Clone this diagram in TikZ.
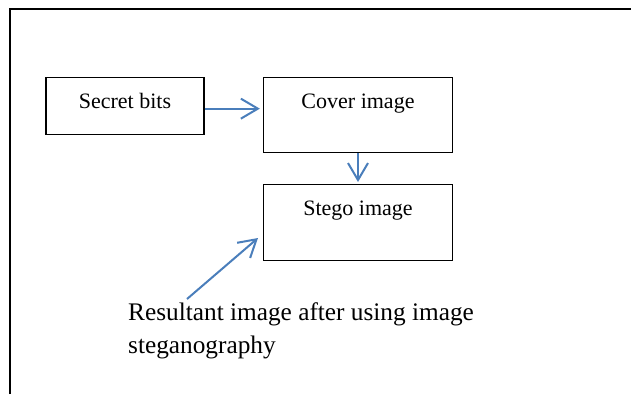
\documentclass[tikz,border=0pt]{standalone}
\usepackage{fontspec}
\setmainfont{Liberation Serif}
\usetikzlibrary{arrows.meta}
\definecolor{arrblue}{HTML}{4A7EBB}
\begin{document}
\begin{tikzpicture}[x=1pt,y=-1pt,
  boxnode/.style={draw=black,line width=1.3pt,inner xsep=0pt,inner ysep=0pt,
    text height=31pt,anchor=north,font=\fontsize{22}{26}\selectfont},
  arr/.style={draw=arrblue,line width=2pt,
    -{Straight Barb[length=17pt,width=20pt,line width=2pt]}},
  frameline/.style={draw=black,line width=2pt}]
\useasboundingbox (0,0) rectangle (631,394);
\draw[frameline] (10,394) -- (10,9) -- (631,9);
\node[boxnode,minimum width=158pt,text depth=26pt] (sec) at (125,77) {Secret bits};
\node[boxnode,minimum width=189pt,text depth=44pt] (cov) at (358,77) {Cover image};
\node[boxnode,minimum width=189pt,text depth=45pt] (steg) at (358,184) {Stego image};
\node[anchor=north west,inner sep=0pt,align=left,
  font=\fontsize{25.3}{33}\selectfont] (res) at (128,302)
  {Resultant image after using image\\steganography};
\coordinate (tail) at (187,299);
\coordinate (tip) at (258,238);
\draw[arr,shorten >=3pt] ([yshift=-2.5pt]sec.east) -- ([yshift=-2.5pt]sec.east -| cov.west);
\draw[arr,shorten >=2pt] (cov.south) -- (steg.north);
\draw[arr] (tail) -- (tip);
\end{tikzpicture}
\end{document}
